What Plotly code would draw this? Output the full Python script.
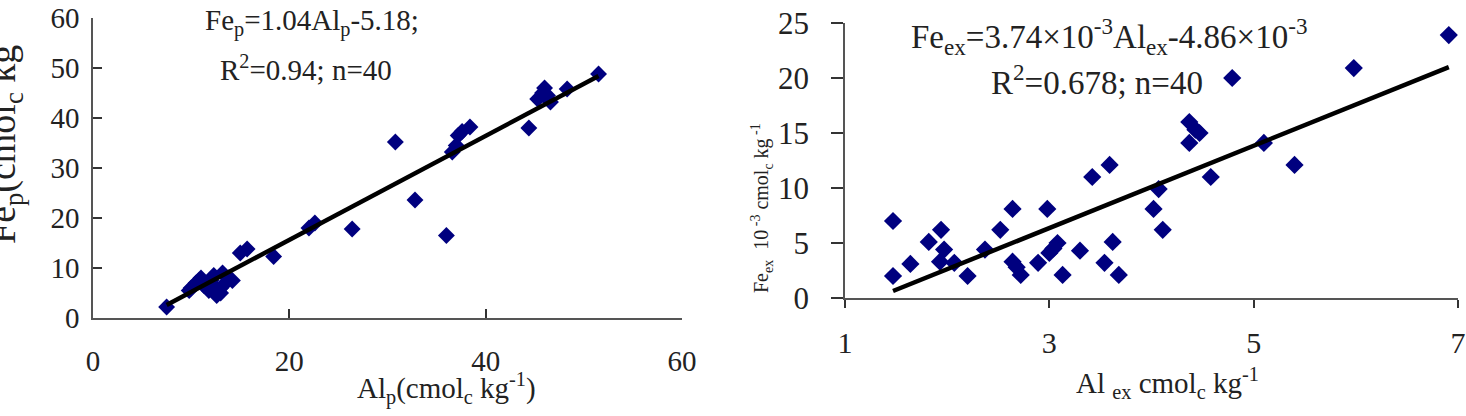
import plotly.graph_objects as go

# ---- Left panel data: Al_p vs Fe_p (cmol_c kg-1)
al_p = [7.5, 9.8, 10.0, 10.5, 10.8, 11.0, 11.3, 11.8, 12.0, 12.3, 12.5, 12.6, 13.0, 13.0,
        13.2, 13.5, 13.8, 14.2, 15.0, 15.7, 18.4, 22.0, 22.6, 26.4, 30.8, 32.8, 36.0,
        36.6, 37.0, 37.2, 37.6, 38.4, 44.4, 45.3, 45.8, 46.0, 46.3, 46.6, 48.3, 51.5]
fe_p = [2.2, 5.5, 6.0, 7.0, 7.5, 8.0, 6.5, 5.5, 7.5, 8.5, 6.0, 4.5, 6.0, 5.0,
        9.0, 7.0, 8.0, 7.5, 13.0, 13.8, 12.3, 18.0, 19.0, 17.8, 35.2, 23.6, 16.5,
        33.2, 34.5, 36.5, 37.3, 38.2, 38.0, 43.8, 45.0, 46.0, 44.5, 43.2, 45.8, 48.8]
fit_p_slope, fit_p_icpt = 1.04, -5.18

# ---- Right panel data: Al_ex (cmol_c kg-1) vs Fe_ex (10^-3 cmol_c kg-1)
al_ex = [1.47, 1.47, 1.64, 1.82, 1.94, 1.97, 1.93, 2.07, 2.20, 2.37, 2.52, 2.64, 2.64, 2.72,
         2.68, 2.89, 2.98, 3.00, 3.08, 3.13, 3.04, 3.30, 3.42, 3.59, 3.54, 3.62, 3.68,
         4.02, 4.07, 4.11, 4.37, 4.43, 4.37, 4.47, 4.58, 4.79, 5.10, 5.40, 5.98, 6.91]
fe_ex = [7.0, 2.0, 3.1, 5.1, 6.2, 4.4, 3.3, 3.2, 2.0, 4.4, 6.2, 8.1, 3.3, 2.1,
         2.8, 3.2, 8.1, 4.1, 5.0, 2.1, 4.5, 4.3, 11.0, 12.1, 3.2, 5.1, 2.1,
         8.1, 9.9, 6.2, 16.0, 15.3, 14.1, 15.0, 11.0, 20.0, 14.1, 12.1, 20.9, 23.9]
fit_ex_slope, fit_ex_icpt = 3.74, -4.86

FONT = "Liberation Serif"
NAVY = "#00007f"

fig = go.Figure()

fig.add_trace(go.Scatter(x=al_p, y=fe_p, mode="markers",
                         marker=dict(symbol="diamond", size=13, color=NAVY),
                         xaxis="x", yaxis="y", showlegend=False))
lx = [min(al_p), max(al_p)]
fig.add_trace(go.Scatter(x=lx, y=[fit_p_slope * v + fit_p_icpt for v in lx], mode="lines",
                         line=dict(color="black", width=4.5),
                         xaxis="x", yaxis="y", showlegend=False))

fig.add_trace(go.Scatter(x=al_ex, y=fe_ex, mode="markers",
                         marker=dict(symbol="diamond", size=14, color=NAVY),
                         xaxis="x2", yaxis="y2", showlegend=False))
rx = [min(al_ex), max(al_ex)]
fig.add_trace(go.Scatter(x=rx, y=[fit_ex_slope * v + fit_ex_icpt for v in rx], mode="lines",
                         line=dict(color="black", width=4.5),
                         xaxis="x2", yaxis="y2", showlegend=False))

axline = dict(showline=True, linecolor="#555555", linewidth=1.5, showgrid=False,
              zeroline=False, tickcolor="#333333", tickwidth=1.5, automargin=False)

W, H = 1466, 416
def px_x(p): return p / W
def px_y(p): return (H - p) / H

fig.update_layout(
    width=W, height=H, margin=dict(l=0, r=0, t=0, b=0, autoexpand=False),
    paper_bgcolor="white", plot_bgcolor="white",
    font=dict(family=FONT, color="#222222"),
    xaxis=dict(domain=[px_x(93), px_x(682)], range=[0, 60], tick0=0, dtick=20, ticks="inside",
               ticklen=9, ticklabelstandoff=16, tickfont=dict(size=29, family=FONT),
               anchor="y", **axline),
    yaxis=dict(domain=[px_y(318), px_y(18)], range=[0, 60], tick0=0, dtick=10, ticks="inside",
               ticklen=9, ticklabelstandoff=6, tickfont=dict(size=29, family=FONT),
               anchor="x", **axline),
    xaxis2=dict(domain=[px_x(845), px_x(1458)], range=[1, 7], tick0=1, dtick=2, ticks="outside",
                ticklen=8, ticklabelstandoff=9, tickfont=dict(size=30, family=FONT),
                anchor="y2", **axline),
    yaxis2=dict(domain=[px_y(298), px_y(23)], range=[0, 25], tick0=0, dtick=5, ticks="outside",
                ticklen=12, ticklabelstandoff=16, tickfont=dict(size=31, family=FONT),
                anchor="x2", **axline),
)

def A(text, x, y, size, angle=0):
    return dict(text=text, x=px_x(x), y=px_y(y), xref="paper", yref="paper",
                xanchor="center", yanchor="middle", showarrow=False, textangle=angle,
                font=dict(size=size, family=FONT, color="#222222"))

ann = [
    # left panel texts
    A("Fe<sub>p</sub>=1.04Al<sub>p</sub>-5.18;", 312, 22, 29),
    A("R<sup>2</sup>=0.94; n=40", 306, 68, 29),
    A("Al<sub>p</sub>(cmol<sub>c</sub> kg<sup>-1</sup>)", 447, 388, 29),
    A("Fe<sub>p</sub>(cmol<sub>c</sub> kg", 5, 145, 38, -90),
    # right panel texts
    A("Fe<sub>ex</sub>=3.74×10<sup>-3</sup>Al<sub>ex</sub>-4.86×10<sup>-3</sup>", 1109, 36, 33),
    A("R<sup>2</sup>=0.678; n=40", 1097, 80, 33),
    A("Al <sub>ex</sub> cmol<sub>c</sub> kg<sup>-1</sup>", 1167, 383, 29),
    A("Fe<sub>ex</sub>  10<sup> -3</sup> cmol<sub>c</sub> kg<sup> -1</sup>", 762, 208, 20, -90),
]
fig.update_layout(annotations=ann)

fig.write_html("out.html")
